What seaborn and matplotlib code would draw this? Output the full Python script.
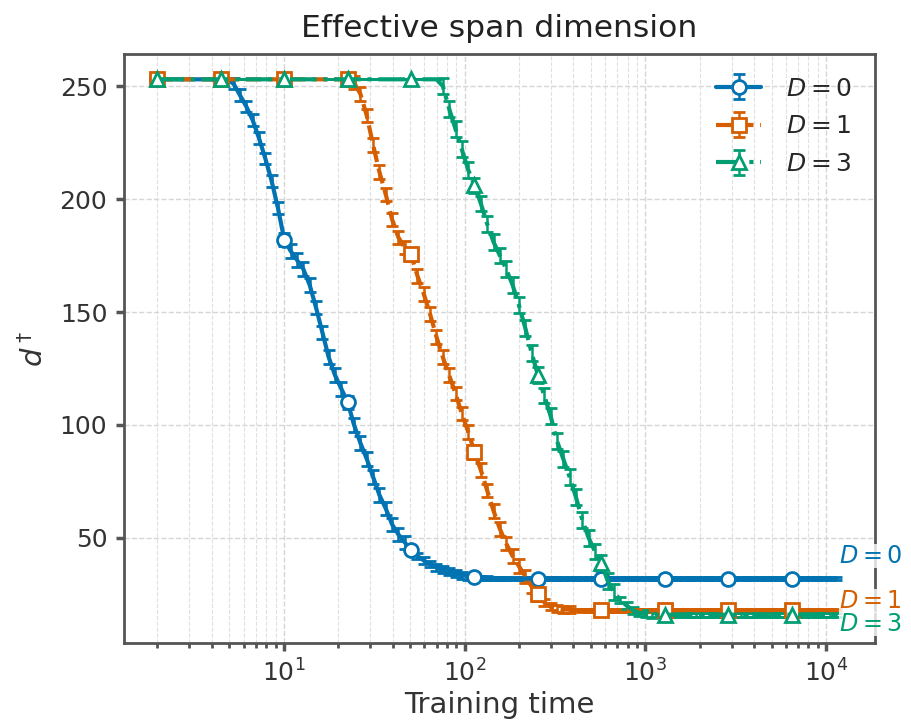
import matplotlib
matplotlib.use("Agg")
import matplotlib.pyplot as plt
import seaborn as sns

# training time grid (log spaced)
time = [2.00, 2.168, 2.351, 2.549, 2.763, 2.996, 3.248, 3.521, 3.817, 4.139,
        4.487, 4.864, 5.274, 5.718, 6.199, 6.720, 7.286, 7.899, 8.563, 9.281,
        10.06, 10.91, 11.83, 12.82, 13.90, 15.07, 16.34, 17.71, 19.20, 20.82,
        22.57, 24.47, 26.53, 28.76, 31.18, 33.80, 36.65, 39.73, 43.07, 46.70,
        50.62, 54.88, 59.50, 64.51, 69.94, 75.82, 82.20, 89.12, 96.58, 104.7,
        113.5, 123.1, 133.4, 144.7, 156.8, 170.0, 184.4, 199.9, 216.7, 234.9,
        254.7, 276.1, 299.3, 324.5, 351.8, 381.4, 413.5, 448.3, 486.0, 526.9,
        571.2, 619.3, 671.4, 727.9, 789.1, 855.5, 927.5, 1005, 1090, 1181,
        1281, 1388, 1505, 1632, 1769, 1918, 2080, 2255, 2444, 2650,
        2873, 3114, 3377, 3661, 3969, 4302, 4664, 5057, 5482, 5943,
        6443, 6985, 7573, 8210, 8900, 9648, 10460, 11340]

d0 = ([253] * 12
      + [251, 246, 241, 235, 227, 218, 208, 196, 182, 177,
         173, 169, 162, 152, 141, 130, 122, 116, 110, 100,
         92, 85, 77, 69, 63, 56, 51.5, 48, 44.5, 42,
         40, 38.5, 37, 36, 35, 34.2, 33.5, 33, 32.5]
      + [32.3, 32.2, 32.1] + [32] * 54)
d1 = ([253] * 31
      + [251.5, 246.5, 237, 224, 212, 202, 191, 183, 178.5, 175.5,
         166, 158, 149, 139, 130, 122, 114, 105, 97, 88,
         80, 71, 62, 54, 47.5, 42, 37.5, 33, 28.5, 25,
         21.5, 19.5, 18.8, 18.4]
      + [18.2, 18.1] + [18] * 41)
d3 = ([253] * 45
      + [250, 240, 231, 222, 213, 206, 198, 189, 181, 175,
         169, 162, 153, 143, 132, 122, 113, 104, 93, 85,
         77, 68, 58, 50, 44, 39, 31, 26, 22.5, 20,
         18, 16.8, 16.4]
      + [16.2] + [16] * 29)

d0_err = [0] * 12 + [2.5] * 8 + [3] * 20 + [1.5] * 11 + [0.8] * 57
d1_err = [0] * 31 + [3] * 30 + [1.5] * 5 + [0.6] * 42
d3_err = [0] * 45 + [3.5] * 28 + [1.5] * 6 + [0.8] * 29

labels = [r"$D=0$", r"$D=1$", r"$D=3$"]
end_label_y = [42, 22.0, 11.9]

sns.set_theme(style="ticks")
plt.rcParams["font.family"] = ["DejaVu Sans"]
plt.rcParams["mathtext.fontset"] = "dejavusans"

pal = sns.color_palette("colorblind")
colors = [pal[0], pal[3], pal[2]]
styles = ["-", "--", "-."]
markers = ["o", "s", "^"]

fig = plt.figure(figsize=(4.56, 3.615), dpi=200)
ax = fig.add_axes([0.136, 0.1107, 0.8234, 0.8146])
ax.set_xscale("log")

series = [(d0, d0_err), (d1, d1_err), (d3, d3_err)]
for (vals, err), c, ls, m, lab in zip(series, colors, styles, markers, labels):
    ax.errorbar(time, vals, yerr=err, color=c, ls=ls, lw=1.5,
                marker=m, ms=5, mfc="white", mec=c, mew=1.0, markevery=10,
                capsize=2.3, elinewidth=0.9, capthick=0.9, label=lab)

# end-of-curve labels
for y, c, lab in zip(end_label_y, colors, labels):
    ax.text(11800, y, lab, color=c, fontsize=8.6, ha="left", va="center",
            zorder=10, clip_on=False,
            bbox=dict(facecolor="white", edgecolor="none", alpha=0.8, pad=0))

ax.set_xlim(1.306, 18660)
ax.set_ylim(3.5, 264.2)
ax.set_yticks([50, 100, 150, 200, 250])

ax.set_axisbelow(True)
ax.grid(which="major", ls="--", lw=0.5, color="0.84")
ax.grid(which="minor", axis="x", ls="--", lw=0.4, color="0.88")

for s in ax.spines.values():
    s.set_color("#555555")
    s.set_linewidth(1.0)
ax.tick_params(which="both", colors="#555555", labelcolor="#333333", labelsize=9)
ax.tick_params(which="major", length=3, pad=3)
ax.tick_params(which="minor", length=1.8)

ax.set_title("Effective span dimension", fontsize=11.3, color="#222222")
ax.set_xlabel("Training time", fontsize=10.5, color="#333333", labelpad=1.5)
ax.set_ylabel(r"$d^\dagger$", fontsize=10.5, color="#333333")

ax.legend(loc="upper right", frameon=False, fontsize=9,
          handlelength=1.8, handletextpad=1.0, labelspacing=0.55)

fig.savefig("out.png", dpi=200)
